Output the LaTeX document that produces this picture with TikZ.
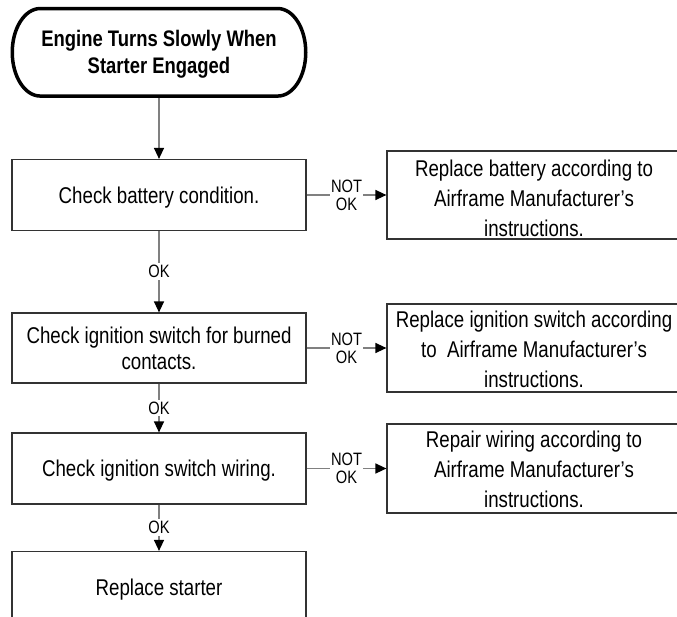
\documentclass[tikz,border=0pt]{standalone}
\usepackage{fontspec}
\setmainfont{Liberation Sans}[FakeStretch=0.82]
\usetikzlibrary{arrows.meta}
\tikzset{
  startbox/.style={line width=3.5pt, minimum width=290pt, minimum height=87.5pt,
    inner sep=0pt, align=center, text depth=0pt,
    font=\bfseries\fontsize{22.5}{27}\selectfont},
  startline/.style={draw=black, line width=3.5pt, line join=round},
  lbox/.style={draw=black!80, line width=1.2pt, minimum width=294pt,
    minimum height=71pt, inner sep=0pt, align=center, text depth=0pt,
    font=\fontsize{22.8}{26.5}\selectfont},
  rbox/.style={draw=black!80, line width=1.2pt, minimum width=294pt,
    minimum height=88pt, inner sep=0pt},
  rtext/.style={align=center, inner sep=0pt, text depth=0pt,
    font=\fontsize{22.8}{30}\selectfont},
  conn/.style={draw=black!50, line width=1.4pt,
    -{Triangle[length=11pt,width=10pt,color=black]}},
  lbl/.style={fill=white, inner xsep=1.5pt, inner ysep=2pt, align=center,
    font=\fontsize{17.9}{18}\selectfont},
}
\begin{document}
\begin{tikzpicture}[x=1pt,y=-1pt]
\useasboundingbox (0,0) rectangle (677,617);
\clip (0,0) rectangle (677,617);
\fill[white] (0,0) rectangle (677,617);

\node[startbox] (start) at (159,52.3) {Engine Turns Slowly When\\Starter Engaged};
\draw[startline] ([xshift=28pt,yshift=-1.75pt]start.north west)
  -- ([xshift=-28pt,yshift=-1.75pt]start.north east)
  arc[start angle=90, end angle=-90, x radius=28pt, y radius=43.75pt]
  -- ([xshift=28pt,yshift=1.75pt]start.south west)
  arc[start angle=270, end angle=90, x radius=28pt, y radius=43.75pt]
  -- cycle;

\node[lbox] (b1) at (159,195) {Check battery condition.};
\node[lbox, minimum height=70pt] (b2) at (159,348) {Check ignition switch for burned\\contacts.};
\node[lbox] (b3) at (159,468.5) {Check ignition switch wiring.};
\node[lbox] (b4) at (159,587) {Replace starter};

\node[rbox] (r1) at (534,195) {};
\node[rbox] (r2) at (534,348) {};
\node[rbox, minimum height=89pt] (r3) at (534,468.5) {};

\node[rtext] (r1t) at (534,198) {Replace battery according to\\Airframe Manufacturer’s\\instructions.};
\node[rtext] (r2t) at (534,349.5) {Replace ignition switch according\\to~~Airframe Manufacturer’s\\instructions.};
\node[rtext] (r3t) at (534,469) {Repair wiring according to\\Airframe Manufacturer’s\\instructions.};

\draw[conn] (start) -- (b1);
\draw[conn] (b1) -- node[lbl] {OK} (b2);
\draw[conn] (b2) -- node[lbl] {OK} (b3);
\draw[conn] (b3) -- node[lbl] {OK} (b4);

\draw[conn] (b1) -- node[lbl] {NOT\\OK} (r1);
\draw[conn] (b2) -- node[lbl] {NOT\\OK} (r2);
\draw[conn] (b3) -- node[lbl] {NOT\\OK} (r3);
\end{tikzpicture}
\end{document}
